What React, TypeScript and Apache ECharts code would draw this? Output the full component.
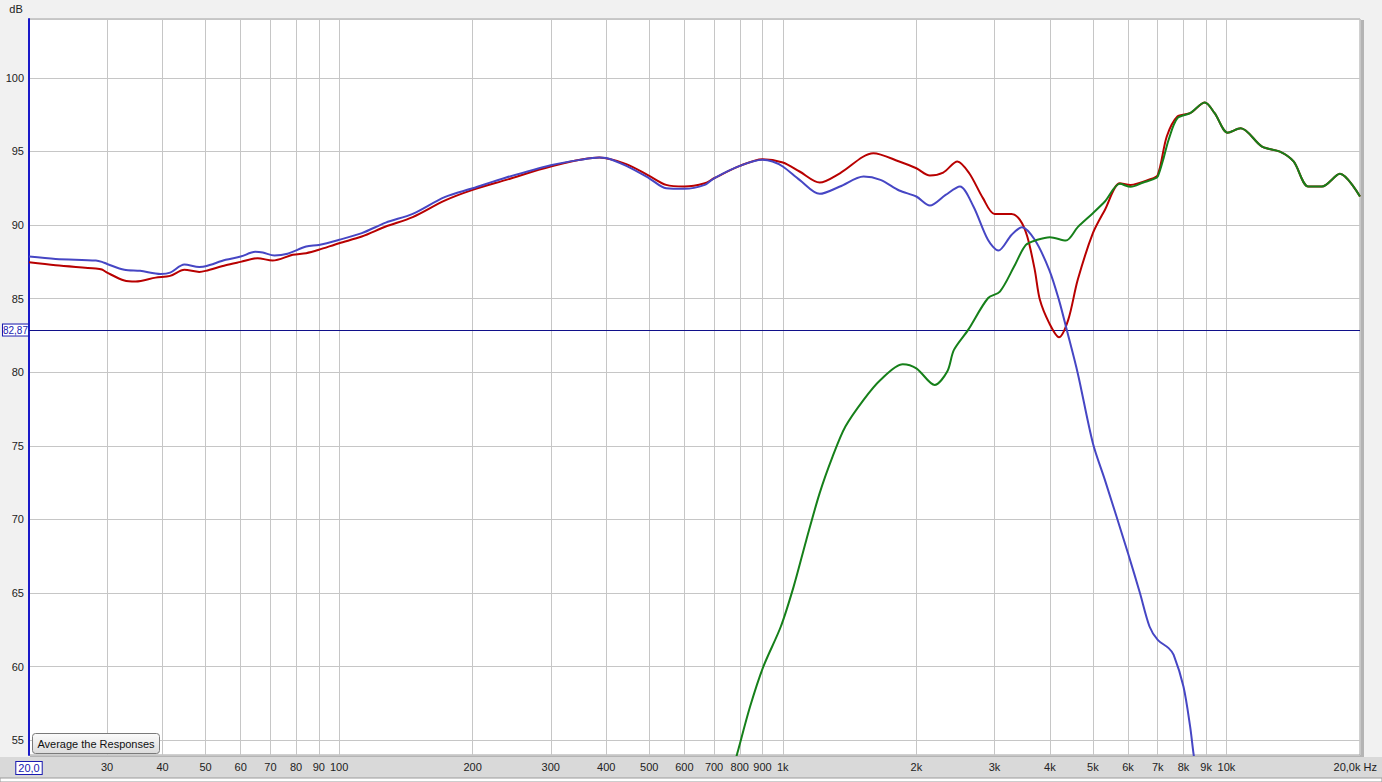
import React, { useEffect, useRef } from "react";
import * as echarts from "echarts";

// ---- Data (frequency in Hz, level in dB) ----
const redFreq = [20, 22.96, 28.3, 29.2, 30, 32.8, 34.8, 38.6, 41.6, 44.8, 48.4, 50, 55.5, 60, 65.5, 70.8, 78.6, 84.3, 90, 100, 112.5, 127.4, 146.5, 172.9, 200, 238, 300, 386, 444, 500, 546, 600, 667, 700, 800, 900, 1000, 1091, 1211, 1345, 1600, 1830, 2000, 2146, 2299, 2475, 2632, 2826, 3000, 3277, 3424, 3557, 3698, 3798, 3986, 4192, 4399, 4622, 5000, 5321, 5752, 6081, 6708, 7000, 7336, 7753, 8283, 8938, 9407, 10066, 10768, 12030, 13200, 14170, 15290, 16420, 18020, 20000];
const redDb = [87.47, 87.27, 87.05, 86.98, 86.77, 86.23, 86.16, 86.43, 86.55, 86.96, 86.82, 86.89, 87.27, 87.5, 87.75, 87.59, 87.98, 88.09, 88.32, 88.77, 89.22, 89.9, 90.54, 91.66, 92.39, 93.07, 93.98, 94.59, 94.14, 93.34, 92.73, 92.62, 92.84, 93.18, 94.02, 94.48, 94.25, 93.64, 92.89, 93.52, 94.88, 94.32, 93.86, 93.37, 93.57, 94.32, 93.52, 91.83, 90.76, 90.76, 90.35, 89.22, 86.96, 84.92, 83.34, 82.38, 83.56, 86.28, 89.45, 91.03, 92.84, 92.73, 93.1, 93.4, 96.02, 97.38, 97.6, 98.32, 97.6, 96.28, 96.58, 95.33, 94.99, 94.32, 92.62, 92.62, 93.48, 91.94];

const blueFreq = [20, 22.96, 28.3, 29.2, 30, 32.8, 35.6, 39.6, 41.6, 44.8, 48.4, 50, 55.5, 60, 64.7, 67.3, 71.5, 76.5, 84.3, 90, 100, 112.5, 127.4, 146.5, 172.9, 200, 238, 300, 349, 386, 400, 444, 500, 546, 600, 667, 700, 800, 900, 948, 1000, 1091, 1211, 1345, 1521, 1660, 1830, 2000, 2146, 2328, 2508, 2690, 2900, 3062, 3277, 3459, 3698, 3986, 4192, 4370, 4622, 5000, 5321, 6000, 6383, 6708, 7000, 7408, 7604, 8000, 8283, 8426, 8600];
const blueDb = [87.86, 87.7, 87.59, 87.5, 87.36, 86.96, 86.89, 86.68, 86.77, 87.32, 87.16, 87.2, 87.64, 87.86, 88.18, 88.13, 87.93, 88.05, 88.54, 88.65, 89.0, 89.45, 90.17, 90.76, 91.9, 92.5, 93.23, 94.07, 94.43, 94.59, 94.56, 94.02, 93.18, 92.5, 92.46, 92.73, 93.18, 94.02, 94.43, 94.32, 93.98, 93.07, 92.12, 92.62, 93.3, 93.07, 92.35, 91.94, 91.33, 92.05, 92.62, 91.26, 89.0, 88.27, 89.33, 89.86, 89.0, 86.96, 84.92, 82.84, 79.94, 75.18, 72.69, 67.71, 65.0, 62.73, 61.82, 61.26, 60.8, 58.65, 55.93, 54.13, 52.3];

const greenFreq = [765, 790, 844, 904, 990, 1058, 1130, 1211, 1295, 1384, 1521, 1660, 1864, 2000, 2200, 2348, 2431, 2617, 2900, 3086, 3322, 3531, 3750, 4000, 4346, 4622, 5000, 5321, 5752, 6081, 6497, 6848, 7000, 7217, 7408, 7753, 8283, 8938, 9407, 10066, 10768, 12030, 13200, 14170, 15290, 16420, 18020, 20000];
const greenDb = [52.6, 54.13, 57.29, 60.0, 62.73, 65.44, 68.61, 71.79, 74.27, 76.31, 78.13, 79.48, 80.55, 80.27, 79.14, 80.05, 81.52, 82.88, 85.03, 85.48, 87.18, 88.65, 89.0, 89.18, 88.95, 89.86, 90.81, 91.6, 92.8, 92.6, 92.89, 93.12, 93.3, 94.55, 95.8, 97.26, 97.6, 98.32, 97.6, 96.28, 96.58, 95.33, 94.99, 94.32, 92.62, 92.62, 93.48, 91.94];

const gridFreqs = [30, 40, 50, 60, 70, 80, 90, 100, 200, 300, 400, 500, 600, 700, 800, 900, 1000, 2000, 3000, 4000, 5000, 6000, 7000, 8000, 9000, 10000];
const gridLabels = ["30", "40", "50", "60", "70", "80", "90", "100", "200", "300", "400", "500", "600", "700", "800", "900", "1k", "2k", "3k", "4k", "5k", "6k", "7k", "8k", "9k", "10k"];
const refLevel = 82.87;
const refLabel = "82,87";
const xMinLabel = "20,0";
const xMaxLabel = "20,0k Hz";
const yUnit = "dB";
const buttonText = "Average the Responses";

const FONT = "'Liberation Sans', Arial, sans-serif";

const pairs = (f: number[], d: number[]) => f.map((x, i) => [x, d[i]]);

export default function App() {
  const ref = useRef<HTMLDivElement>(null);
  useEffect(() => {
    if (!ref.current) return;
    const chart = echarts.init(ref.current, null, { renderer: "svg" });
    const option: any = {
      animation: false,
      backgroundColor: "#f1f1f1",
      grid: {
        left: 29,
        right: 22,
        top: 19,
        bottom: 27,
        show: true,
        backgroundColor: "#ffffff",
        borderColor: "#a0a0a0",
        borderWidth: 1,
      },
      xAxis: {
        type: "log",
        logBase: 10,
        min: 20,
        max: 20000,
        axisLine: { show: false },
        axisTick: { show: false },
        axisLabel: { show: false },
        splitLine: { show: false },
        minorSplitLine: { show: false },
      },
      yAxis: {
        type: "value",
        min: 54,
        max: 104,
        splitNumber: 10,
        axisLine: { show: true, lineStyle: { color: "#1a1ac8", width: 2 } },
        axisTick: { show: false },
        axisLabel: {
          color: "#222",
          fontSize: 11,
          fontFamily: FONT,
          margin: 5,
          showMinLabel: false,
          showMaxLabel: false,
        },
        splitLine: { show: true, lineStyle: { color: "#c6c6c6", width: 1 } },
      },
      graphic: [
        { type: "rect", z: 0, shape: { x: 0, y: 757, width: 1382, height: 21 }, style: { fill: "#d9d9d9" } },
        { type: "rect", z: 0, shape: { x: 0, y: 778, width: 1382, height: 4 }, style: { fill: "#ffffff", stroke: "#9a9a9a", lineWidth: 1 } },
        { type: "rect", z: 0, shape: { x: 1361, y: 20, width: 3, height: 737 }, style: { fill: "#b4b4b4" } },
        { type: "rect", z: 0, shape: { x: 30, y: 755, width: 1334, height: 2 }, style: { fill: "#b4b4b4" } },
        { type: "text", z: 10, x: 16, y: 9, style: { text: yUnit, fill: "#222", font: `11px ${FONT}`, align: "center", verticalAlign: "middle" } },
        {
          type: "text", z: 10, x: 29, y: 768,
          style: {
            text: xMinLabel, fill: "#1a1ab0", font: `11px ${FONT}`, align: "center", verticalAlign: "middle",
            backgroundColor: "#ffffff", borderColor: "#1a1ab0", borderWidth: 1, padding: [1, 2, 0, 2],
          },
        },
        { type: "text", z: 10, x: 1377, y: 767, style: { text: xMaxLabel, fill: "#222", font: `11px ${FONT}`, align: "right", verticalAlign: "middle" } },
        {
          type: "rect", z: 20,
          shape: { x: 32.5, y: 733.5, width: 127, height: 20, r: 3 },
          style: {
            fill: new echarts.graphic.LinearGradient(0, 0, 0, 1, [
              { offset: 0, color: "#fbfbfb" },
              { offset: 1, color: "#dcdcdc" },
            ]),
            stroke: "#7a7a7a",
            lineWidth: 1,
          },
        },
        { type: "text", z: 21, x: 96, y: 744, style: { text: buttonText, fill: "#111", font: `11px ${FONT}`, align: "center", verticalAlign: "middle" } },
      ],
      series: [
        {
          type: "line",
          name: "red",
          data: pairs(redFreq, redDb),
          showSymbol: false,
          smooth: 0.3,
          z: 3,
          lineStyle: { color: "#b80000", width: 2 },
          markLine: {
            silent: true,
            symbol: "none",
            z: 1,
            animation: false,
            lineStyle: { color: "#c6c6c6", width: 1, type: "solid" },
            label: {
              show: true,
              position: "start",
              distance: 6,
              color: "#222",
              fontSize: 11,
              fontFamily: FONT,
            },
            data: gridFreqs.map((f, i) => ({ xAxis: f, label: { formatter: gridLabels[i] } })),
          },
        },
        {
          type: "line",
          name: "blue",
          data: pairs(blueFreq, blueDb),
          showSymbol: false,
          smooth: 0.3,
          z: 4,
          lineStyle: { color: "#4646c4", width: 2 },
          markLine: {
            silent: true,
            symbol: "none",
            z: 2,
            animation: false,
            lineStyle: { color: "#10108a", width: 1, type: "solid" },
            label: {
              show: true,
              position: "start",
              distance: 1,
              formatter: refLabel,
              color: "#1a1ab0",
              fontSize: 10,
              fontFamily: FONT,
              backgroundColor: "#ffffff",
              borderColor: "#1a1ab0",
              borderWidth: 1,
              padding: [1, 0, 0, 0],
            },
            data: [{ yAxis: refLevel }],
          },
        },
        {
          type: "line",
          name: "green",
          data: pairs(greenFreq, greenDb),
          showSymbol: false,
          smooth: 0.3,
          z: 5,
          lineStyle: { color: "#16801a", width: 2 },
        },
      ],
    };
    chart.setOption(option);
    return () => chart.dispose();
  }, []);
  return (
    <div
      ref={ref}
      style={{ position: "absolute", left: 0, top: 0, width: 1382, height: 782 }}
    />
  );
}
